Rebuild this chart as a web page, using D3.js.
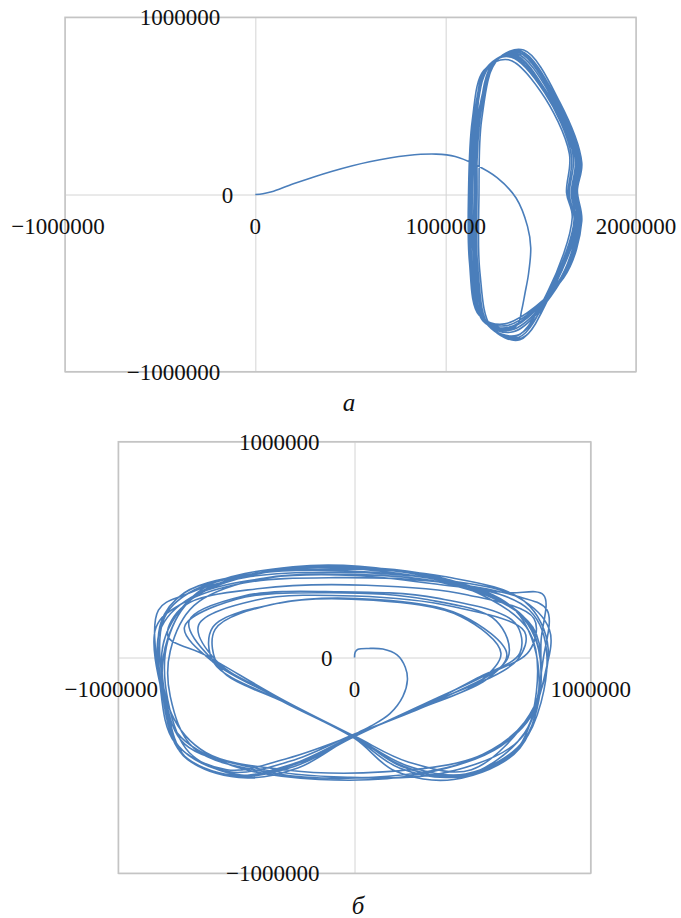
<!DOCTYPE html>
<html>
<head>
<meta charset="utf-8">
<script src="https://cdn.jsdelivr.net/npm/d3@7"></script>
<style>
  body { margin: 0; background: #fff; }
  text { font-family: "Liberation Serif", "Times New Roman", serif; fill: #111; }
</style>
</head>
<body>
<div id="chart-area"></div>
<script>
// values are in thousands (x1000 when drawn)

// panel a: ticks
let aTicksX = [-1000000, 0, 1000000, 2000000];
let aTicksY = [-1000000, 0, 1000000];

// panel a: transient from the origin to the attractor
let aTransient = [[0,0],[40,4],[86,15],[200,60],[400,130],[600,185],[800,220],[950,228],[1050,215],
  [1150,172],[1270,95],[1370,-20],[1430,-180],[1447,-300],[1435,-450],[1417,-556],[1400,-650],[1380,-730]];

// panel a: loops (bottom, lower left, left, top, right side ...)
let aLoops = [
  [1340,-760],[1190,-700],[1130,-400],[1125,20],[1150,450],[1220,720],[1360,790],[1540,560],[1680,210],[1660,0],[1690,-170],[1570,-520],
  [1390,-820],[1240,-750],[1180,-440],[1175,-10],[1190,430],[1270,760],[1410,815],[1600,520],[1715,180],[1692,20],[1715,-150],[1620,-470],
  [1310,-730],[1175,-680],[1125,-380],[1120,0],[1140,420],[1200,700],[1330,760],[1500,580],[1650,230],[1635,10],[1665,-130],[1540,-540],
  [1370,-800],[1215,-730],[1160,-420],[1155,20],[1180,470],[1280,770],[1400,805],[1580,530],[1700,190],[1677,-10],[1705,-180],[1600,-490],
  [1330,-750],[1200,-710],[1140,-410],[1135,-20],[1160,440],[1230,730],[1350,780],[1530,570],[1670,220],[1650,0],[1680,-160],[1560,-530],
  [1400,-810],[1230,-745],[1170,-430],[1165,10],[1175,420],[1250,745],[1390,800],[1590,525],[1710,185],[1687,15],[1710,-165],[1610,-480],
  [1355,-775],[1205,-720],[1150,-420],[1140,0],[1165,455],[1215,715],[1370,795],[1560,545],[1690,200],[1668,5],[1695,-150],[1585,-505],
  [1320,-740],[1185,-690],[1135,-390],[1130,10],[1145,430],[1240,740],[1345,775],[1520,575],[1660,225],[1643,-5],[1675,-140],[1550,-535],
  [1385,-805],[1225,-740],[1165,-425],[1160,-10],[1185,460],[1260,750],[1395,810],[1585,535],[1705,195],[1682,0],[1705,-175],[1605,-485],
  [1345,-765],[1195,-705],[1140,-400],[1130,0],[1155,440],[1210,710],[1355,785],[1545,555],[1685,205],[1662,10],[1685,-160],[1575,-510],
  [1375,-795],[1220,-735],[1155,-415],[1150,15],[1170,445],[1265,755],[1385,800],[1570,540],[1695,195],[1673,-5],[1700,-170],[1595,-495],
  [1335,-755],[1195,-712],[1145,-405]
];

// panel б: ticks
let bTicksX = [-1000000, 0, 1000000];
let bTicksY = [-1000000, 0, 1000000];

// panel б: transient
let bTransient = [[0,0],[3,25],[15,38],[60,42],[120,39],[180,12],[215,-45],[224,-104],[205,-180],[150,-260],[66,-320],[20,-345]];

// panel б: the orbit after the transient, read arc by arc
let bLoops = [
  [0,-360],[-240,-490],[-480,-545],[-700,-440],[-790,-200],
  [-790,80],[-680,280],[-380,395],[0,420],[400,360],[680,220],[780,-60],
  [720,-380],[470,-540],[220,-500],[0,-368],
  [-300,-200],[-600,-20],[-720,140],[-500,270],[-100,300],[300,270],[600,170],[650,0],[320,-215],
  [0,-355],[-270,-480],[-530,-530],[-745,-410],[-815,-150],
  [-820,160],[-720,300],[-420,390],[-50,410],[380,375],[720,260],[820,40],
  [720,-300],[480,-480],[80,-555],[-350,-535],[-680,-420],[-780,-180],
  [-780,30],[-680,240],[-420,360],[-20,385],[400,340],[700,200],[790,-40],
  [700,-420],[420,-565],[170,-525],[0,-375],
  [-290,-212],[-570,-50],[-590,130],[-330,250],[80,265],[450,190],[620,20],[520,-120],[280,-235],
  [0,-362],[-240,-512],[-490,-556],[-715,-462],[-795,-230],
  [-825,120],[-690,280],[-360,370],[0,380],[420,330],[650,300],[800,290],[790,80],
  [770,-220],[620,-410],[280,-540],[-150,-565],[-520,-500],[-750,-350],[-810,-120],
  [-800,100],[-640,320],[-260,420],[160,405],[520,300],[740,120],[770,-160],
  [680,-435],[440,-552],[190,-512],[0,-372],
  [-305,-195],[-610,0],[-700,170],[-470,285],[-60,305],[350,275],[680,160],[700,20],[520,-95],[305,-215],
  [0,-358],[-285,-468],[-540,-520],[-760,-395],[-825,-110],
  [-830,220],[-720,290],[-440,375],[-60,395],[340,365],[690,280],[825,130],[810,-60],
  [730,-300],[520,-460],[120,-530],[-300,-520],[-630,-440],[-775,-260],
  [-810,60],[-690,270],[-350,400],[80,410],[480,330],[730,170],[790,-80],
  [740,-270],[495,-520],[230,-485],[0,-364],
  [-308,-193],[-630,10],[-790,100],[-720,240],[-400,320],[50,335],[480,290],[760,180],[740,30],[560,-80],[315,-205],
  [0,-366],[-255,-505],[-505,-550],[-725,-455],[-805,-210],
  [-840,140],[-730,250],[-470,345],[-80,370],[360,350],[700,280],[815,220],[800,0],
  [720,-350],[460,-550],[210,-505],[0,-370],
  [-300,-200],[-585,-15],[-660,150],[-420,265],[0,285],[420,235],[720,120],[690,-10],[320,-210],
  [0,-360],[-265,-495],[-520,-545],[-735,-440],[-810,-180],
  [-790,90],[-670,290],[-330,405],[110,400],[510,310],[755,140],[785,-130],
  [700,-380],[400,-530],[-30,-555],[-430,-510],[-720,-400],[-800,-190],
  [-810,170],[-700,300],[-410,390],[0,400],[400,350],[740,220],[815,0],
  [710,-400],[450,-545],[200,-505],[0,-366],
  [-300,-205],[-595,-25],[-600,140],[-320,252],[95,268],[455,195],[645,15],[555,-105],[300,-222]
];


let svg = d3.select("#chart-area")
    .append("svg")
    .attr("width", 681)
    .attr("height", 918);

let fmt = function(d){ return d < 0 ? "\u2212" + Math.abs(d) : String(d); };

function panel(p) {
  let x = d3.scaleLinear().domain(p.xd).range([p.l, p.r]);
  let y = d3.scaleLinear().domain(p.yd).range([p.b, p.t]);
  let w = p.r - p.l, h = p.b - p.t;

  // gridlines
  let gx = svg.append("g")
      .attr("transform", "translate(0," + p.b + ")")
      .call(d3.axisBottom(x).tickValues(p.tx).tickSize(-h).tickFormat(""));
  let gy = svg.append("g")
      .attr("transform", "translate(" + p.l + ",0)")
      .call(d3.axisLeft(y).tickValues(p.ty).tickSize(-w).tickFormat(""));
  [gx, gy].forEach(function(g){
    g.select(".domain").remove();
    g.selectAll("line").attr("stroke", "#d4d4d4").attr("stroke-width", 1);
  });

  // plot frame
  svg.append("rect")
      .attr("x", p.l).attr("y", p.t)
      .attr("width", w).attr("height", h)
      .attr("fill", "none")
      .attr("stroke", "#c4c4c4")
      .attr("stroke-width", 1.5);

  // trajectory
  let pts = p.trans.concat(p.loops);
  let line = d3.line()
      .x(function(d){ return x(d[0] * 1000); })
      .y(function(d){ return y(d[1] * 1000); })
      .curve(d3.curveCatmullRom.alpha(0.5));
  svg.append("path")
      .datum(pts)
      .attr("d", line)
      .attr("fill", "none")
      .attr("stroke", "#4a7ebb")
      .attr("stroke-width", 1.6)
      .attr("stroke-linejoin", "round");

  // x labels (under the y=0 line)
  svg.selectAll(null)
      .data(p.tx)
      .enter()
      .append("text")
      .attr("x", function(d){ return x(d) + (d < 0 ? -7 : 0); })
      .attr("y", y(0) + 39)
      .attr("font-size", "23px")
      .attr("text-anchor", "middle")
      .text(fmt);

  // y labels (left of the x=0 line)
  svg.selectAll(null)
      .data(p.ty)
      .enter()
      .append("text")
      .attr("x", function(d){ return d === 0 ? x(0) - 22 : x(0) - 35; })
      .attr("y", function(d){ return y(d) + 8; })
      .attr("font-size", "23px")
      .attr("text-anchor", "end")
      .text(fmt);

  // caption
  svg.append("text")
      .attr("x", p.cx)
      .attr("y", p.cy)
      .attr("font-size", "25px")
      .attr("font-style", "italic")
      .attr("text-anchor", "middle")
      .text(p.cap);
}

panel({ l: 65, r: 636, t: 17.3, b: 371.7, xd: [-1000000, 2000000], yd: [-1000000, 1000000],
        tx: aTicksX, ty: aTicksY, trans: aTransient, loops: aLoops, cap: "а", cx: 349, cy: 411 });

panel({ l: 118.3, r: 590.7, t: 441.7, b: 873.3, xd: [-1000000, 1000000], yd: [-1000000, 1000000],
        tx: bTicksX, ty: bTicksY, trans: bTransient, loops: bLoops, cap: "б", cx: 358, cy: 914 });
</script>
</body>
</html>
